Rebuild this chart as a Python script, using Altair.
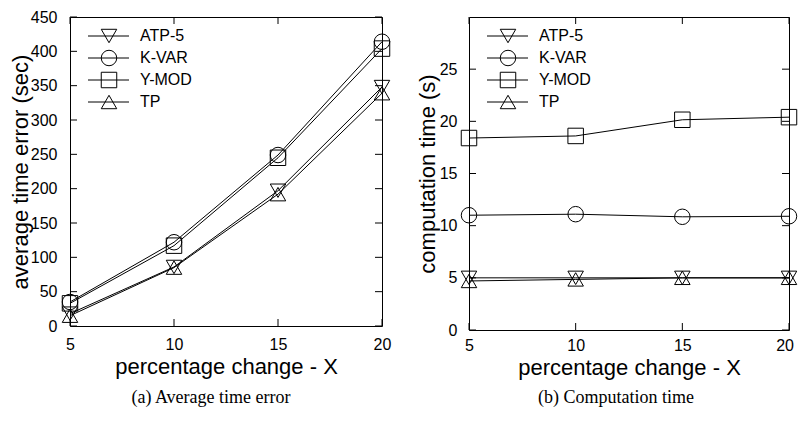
import altair as alt
import pandas as pd

# ---- data ----
x_vals = [5, 10, 15, 20]
series = ["ATP-5", "K-VAR", "Y-MOD", "TP"]
shapes = ["triangle-down", "circle", "square", "triangle-up"]

err_atp5 = [18, 86, 197, 348]
err_kvar = [35, 122, 249, 414]
err_ymod = [33, 117, 245, 404]
err_tp = [15, 85, 192, 339]

ct_atp5 = [5.0, 5.0, 5.0, 5.0]
ct_kvar = [11.0, 11.1, 10.85, 10.9]
ct_ymod = [18.4, 18.6, 20.15, 20.4]
ct_tp = [4.7, 4.85, 5.0, 5.0]

x_ticks = [5, 10, 15, 20]
err_ticks = [0, 50, 100, 150, 200, 250, 300, 350, 400, 450]
ct_ticks = [0, 5, 10, 15, 20, 25]

x_title = "percentage change - X"
err_title = "average time error (sec)"
ct_title = "computation time (s)"
cap_a = "(a) Average time error"
cap_b = "(b) Computation time"

SANS = "Liberation Sans"
SERIF = "Liberation Serif"


def make_df(values):
    rows = []
    for s, vals in zip(series, values):
        for x, y in zip(x_vals, vals):
            rows.append({"series": s, "x": x, "y": y})
    return pd.DataFrame(rows)


def panel(df, ydomain, yticks, ytitle, w, h, caption, cap_dx, cap_y,
          xlab_pad, xtitle_pad, ylab_pad, ytitle_pad, flush):
    xs = alt.Scale(domain=[5, 20], nice=False, zero=False)
    ys = alt.Scale(domain=ydomain, nice=False, zero=False)
    x_axis = alt.Axis(values=x_ticks, ticks=False, domain=False, grid=False,
                      labelPadding=xlab_pad, labelOverlap=False,
                      labelFlush=flush, labelFlushOffset=4.5,
                      labelFont=SANS, labelFontSize=16, labelColor="black",
                      title=x_title, titlePadding=xtitle_pad,
                      titleFont=SANS, titleFontSize=22, titleFontWeight="normal",
                      titleColor="black")
    y_axis = alt.Axis(values=yticks, ticks=False, domain=False, grid=False,
                      labelPadding=ylab_pad, labelOverlap=False, labelFlush=False,
                      labelFont=SANS, labelFontSize=16, labelColor="black",
                      title=ytitle, titlePadding=ytitle_pad,
                      titleFont=SANS, titleFontSize=22, titleFontWeight="normal",
                      titleColor="black")
    X = alt.X("x:Q", scale=xs, axis=x_axis)
    Y = alt.Y("y:Q", scale=ys, axis=y_axis)

    lines = alt.Chart(df).mark_line(color="black", strokeWidth=1).encode(
        x=X, y=Y, detail="series:N")
    pts = alt.Chart(df).mark_point(filled=False, color="black", size=240,
                                   strokeWidth=1, opacity=1).encode(
        x=X, y=Y,
        shape=alt.Shape("series:N", scale=alt.Scale(domain=series, range=shapes),
                        legend=None))

    ydf = pd.DataFrame({"y": yticks})
    xdf = pd.DataFrame({"x": x_ticks})
    tl = 7
    yt_left = alt.Chart(ydf).mark_rule(color="black", strokeWidth=1).encode(
        y=Y, x=alt.value(0), x2=alt.value(tl))
    yt_right = alt.Chart(ydf).mark_rule(color="black", strokeWidth=1).encode(
        y=Y, x=alt.value(w - tl), x2=alt.value(w))
    xt_bot = alt.Chart(xdf).mark_rule(color="black", strokeWidth=1).encode(
        x=X, y=alt.value(h), y2=alt.value(h - tl))
    xt_top = alt.Chart(xdf).mark_rule(color="black", strokeWidth=1).encode(
        x=X, y=alt.value(0), y2=alt.value(tl))

    layers = [lines, yt_left, yt_right, xt_bot, xt_top, pts]

    # legend (inside plot, line + marker + label)
    one = pd.DataFrame({"k": [0]})
    for i, (s, shp) in enumerate(zip(series, shapes)):
        yy = 19 + 22 * i
        layers.append(alt.Chart(one).mark_rule(color="black", strokeWidth=1).encode(
            x=alt.value(18), x2=alt.value(59), y=alt.value(yy)))
        layers.append(alt.Chart(one).mark_point(filled=False, color="black", size=240,
                                                strokeWidth=1, opacity=1, shape=shp).encode(
            x=alt.value(39), y=alt.value(yy)))
        layers.append(alt.Chart(pd.DataFrame({"t": [s]})).mark_text(
            font=SANS, fontSize=16, align="left", baseline="middle", color="black").encode(
            x=alt.value(70), y=alt.value(yy), text="t:N"))

    cap = alt.Chart(pd.DataFrame({"t": [caption]})).mark_text(
        font=SERIF, fontSize=18, align="center", baseline="middle", color="black").encode(
        x=alt.value(w / 2 + cap_dx), y=alt.value(cap_y), text="t:N")
    layers.append(cap)

    return alt.layer(*layers).properties(width=w, height=h)


left = panel(make_df([err_atp5, err_kvar, err_ymod, err_tp]), [0, 450], err_ticks,
             err_title, 312, 309, cap_a, -15, 381, 10, 4, 13, -2, False)
right = panel(make_df([ct_atp5, ct_kvar, ct_ymod, ct_tp]), [0, 30], ct_ticks,
              ct_title, 320, 313, cap_b, -13, 381, 7, 4, 12, 0, True)

chart = alt.hconcat(left, right, spacing=22).properties(
    padding={"left": 0, "top": 0, "right": 0, "bottom": 0},
    background="white"
).configure_view(stroke="black", strokeWidth=1)

chart.save("out.html", embed_options={"renderer": "svg", "actions": False})
